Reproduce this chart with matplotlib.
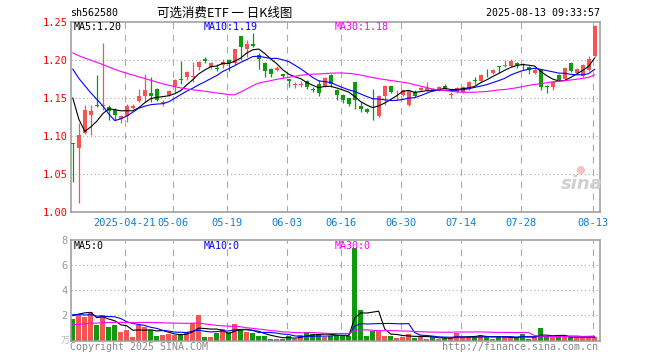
import numpy as np
import pandas as pd
import matplotlib
matplotlib.use('Agg')
import matplotlib.pyplot as plt

# daily bars 2025-04-08 .. 2025-08-13
opens = [1.091, 1.084, 1.104, 1.128, 1.140, 1.139, 1.138, 1.134, 1.122, 1.126,
         1.137, 1.146, 1.153, 1.156, 1.162, 1.143, 1.154, 1.166, 1.175, 1.178,
         1.178, 1.191, 1.201, 1.191, 1.189, 1.193, 1.200, 1.196, 1.231, 1.214,
         1.221, 1.206, 1.196, 1.188, 1.187, 1.181, 1.175, 1.167, 1.167, 1.172,
         1.162, 1.168, 1.165, 1.180, 1.161, 1.154, 1.150, 1.171, 1.139, 1.136,
         1.132, 1.126, 1.153, 1.166, 1.156, 1.154, 1.141, 1.158, 1.160, 1.160,
         1.161, 1.160, 1.166, 1.154, 1.158, 1.158, 1.162, 1.173, 1.173, 1.182,
         1.183, 1.192, 1.192, 1.192, 1.196, 1.194, 1.191, 1.183, 1.187, 1.166,
         1.165, 1.180, 1.175, 1.196, 1.183, 1.179, 1.187, 1.205]
closes = [1.090, 1.101, 1.134, 1.133, 1.139, 1.140, 1.133, 1.128, 1.126, 1.139,
          1.140, 1.153, 1.161, 1.153, 1.147, 1.145, 1.159, 1.174, 1.174, 1.184,
          1.179, 1.198, 1.199, 1.196, 1.188, 1.198, 1.196, 1.214, 1.217, 1.221,
          1.219, 1.201, 1.185, 1.181, 1.190, 1.179, 1.172, 1.168, 1.168, 1.165,
          1.161, 1.156, 1.176, 1.169, 1.154, 1.148, 1.142, 1.147, 1.135, 1.132,
          1.131, 1.153, 1.166, 1.158, 1.157, 1.160, 1.159, 1.153, 1.163, 1.163,
          1.160, 1.165, 1.163, 1.155, 1.163, 1.165, 1.171, 1.172, 1.180, 1.181,
          1.187, 1.191, 1.193, 1.199, 1.194, 1.193, 1.187, 1.187, 1.165, 1.165,
          1.171, 1.174, 1.190, 1.185, 1.188, 1.194, 1.201, 1.245]
highs = [1.091, 1.117, 1.141, 1.141, 1.180, 1.223, 1.141, 1.137, 1.128, 1.142,
         1.142, 1.162, 1.181, 1.178, 1.163, 1.147, 1.161, 1.175, 1.199, 1.185,
         1.197, 1.199, 1.204, 1.198, 1.195, 1.201, 1.201, 1.215, 1.231, 1.226,
         1.235, 1.209, 1.197, 1.189, 1.192, 1.181, 1.175, 1.171, 1.173, 1.174,
         1.164, 1.174, 1.177, 1.181, 1.162, 1.155, 1.150, 1.171, 1.145, 1.137,
         1.162, 1.154, 1.167, 1.166, 1.161, 1.161, 1.160, 1.161, 1.165, 1.171,
         1.163, 1.166, 1.168, 1.158, 1.164, 1.166, 1.172, 1.178, 1.182, 1.188,
         1.188, 1.192, 1.200, 1.201, 1.198, 1.196, 1.192, 1.189, 1.188, 1.167,
         1.172, 1.181, 1.191, 1.197, 1.190, 1.195, 1.205, 1.246]
lows = [1.039, 1.012, 1.102, 1.101, 1.138, 1.134, 1.121, 1.121, 1.117, 1.118,
        1.135, 1.145, 1.145, 1.145, 1.146, 1.140, 1.152, 1.156, 1.169, 1.174,
        1.171, 1.187, 1.196, 1.188, 1.185, 1.189, 1.185, 1.193, 1.200, 1.204,
        1.217, 1.188, 1.178, 1.178, 1.185, 1.176, 1.164, 1.163, 1.164, 1.162,
        1.158, 1.152, 1.164, 1.164, 1.147, 1.143, 1.139, 1.136, 1.132, 1.130,
        1.121, 1.125, 1.141, 1.157, 1.147, 1.152, 1.139, 1.151, 1.159, 1.159,
        1.159, 1.159, 1.161, 1.150, 1.157, 1.157, 1.161, 1.169, 1.172, 1.177,
        1.182, 1.183, 1.191, 1.191, 1.190, 1.187, 1.181, 1.181, 1.161, 1.157,
        1.160, 1.173, 1.174, 1.184, 1.182, 1.178, 1.186, 1.204]
volumes = [1.7, 2.0, 1.9, 2.3, 1.2, 2.05, 1.1, 1.2, 0.7, 0.8,
           0.3, 1.2, 1.1, 0.85, 0.35, 0.45, 0.55, 0.4, 0.53, 0.6,
           1.4, 2.0, 0.25, 0.3, 0.6, 0.9, 0.65, 1.3, 0.8, 0.65,
           0.6, 0.32, 0.37, 0.15, 0.12, 0.15, 0.35, 0.15, 0.45, 0.7,
           0.55, 0.55, 0.3, 0.35, 0.45, 0.35, 0.35, 7.4, 2.45, 0.37,
           0.72, 0.72, 0.37, 0.37, 0.23, 0.3, 0.53, 0.23, 0.37, 0.12,
           0.25, 0.12, 0.2, 0.2, 0.6, 0.25, 0.25, 0.3, 0.45, 0.37,
           0.12, 0.25, 0.25, 0.25, 0.25, 0.55, 0.12, 0.25, 0.96, 0.25,
           0.3, 0.25, 0.3, 0.25, 0.25, 0.25, 0.25, 0.25]

# days before the window, guessed from where the MA lines start
prior_close = [1.215, 1.222, 1.218, 1.225, 1.230, 1.226, 1.219, 1.212, 1.208, 1.214,
               1.221, 1.228, 1.224, 1.217, 1.213, 1.220, 1.227, 1.223, 1.218, 1.221,
               1.222, 1.230, 1.228, 1.225, 1.225, 1.240, 1.215, 1.103, 1.102]
prior_volume = [0.8, 0.9, 0.7, 1.0, 0.85, 0.75, 0.9, 0.8, 0.95, 0.85,
                0.7, 0.9, 1.0, 0.8, 0.85, 0.9, 0.75, 0.85, 0.9, 0.85,
                1.8, 2.3, 2.0, 2.4, 2.1, 1.4, 1.4, 2.1, 3.3]

tick_idx = [9, 17, 26, 36, 45, 55, 65, 75, 87]
tick_labels = ['2025-04-21', '05-06', '05-19', '06-03', '06-16',
               '06-30', '07-14', '07-28', '08-13']
price_ticks = [1.00, 1.05, 1.10, 1.15, 1.20, 1.25]
vol_ticks = [2, 4, 6, 8]

RED = '#f65454'
GREEN = '#0e9a0e'
GREY = '#999999'
MONO = 'DejaVu Sans Mono'
CJK = ['Noto Sans CJK SC', 'DejaVu Sans']

n = len(closes)
x = np.arange(n)
o = np.array(opens)
c = np.array(closes)
up = c >= o
cols = np.where(up, RED, GREEN)


def ma(prior, vals, k):
    s = pd.Series(prior + vals).rolling(k).mean()
    return s.iloc[len(prior):].values


W, H = 660, 360
fig = plt.figure(figsize=(W / 100, H / 100), dpi=100)


def px_axes(left, top, right, bottom):
    return fig.add_axes([left / W, 1 - bottom / H, (right - left) / W, (bottom - top) / H])


def ftext(px, py, s, **kw):
    fig.text(px / W, 1 - py / H, s, **kw)


ax = px_axes(71, 22, 600, 212)
axv = px_axes(71, 240, 600, 340.5)

for a in (ax, axv):
    a.set_xlim(-0.3, 87.9)
    for sp in a.spines.values():
        sp.set_color(GREY)
        sp.set_linewidth(1.1)
    for t in tick_idx:
        a.axvline(t - 0.35, color='#aaaaaa', lw=0.8, ls=(0, (6, 5)), zorder=0)

# price panel
ax.set_ylim(1.0, 1.25)
for p in price_ticks[1:-1]:
    ax.axhline(p, color='#aaaaaa', lw=0.8, ls=(0, (1, 2.5)), zorder=0)
ax.vlines(x, lows, highs, colors=cols, lw=0.9, zorder=2)
body = np.maximum(np.abs(c - o), 0.0012)
ax.bar(x, body, bottom=np.minimum(o, c), width=0.68, color=cols, zorder=3)
ax.plot(x, ma(prior_close, closes, 5), color='black', lw=0.8, zorder=4)
ax.plot(x, ma(prior_close, closes, 10), color='#0000ff', lw=0.8, zorder=4)
ax.plot(x, ma(prior_close, closes, 30), color='#ff00ff', lw=0.8, zorder=4)
ax.set_yticks(price_ticks)
ax.set_yticklabels(['%.2f' % p for p in price_ticks], family=MONO, fontsize=7.5, color='#ff0000')
ax.set_xticks([t - 0.35 for t in tick_idx])
ax.set_xticklabels(tick_labels, family=MONO, fontsize=7.5, color='#0a7fd8')
ax.tick_params(length=0, pad=2.5)
ax.tick_params(axis='x', pad=4)

# volume panel
axv.set_ylim(0, 8)
for v in vol_ticks[:-1]:
    axv.axhline(v, color='#aaaaaa', lw=0.8, ls=(0, (1, 2.5)), zorder=0)
axv.bar(x, volumes, width=0.83, color=cols, zorder=2)
axv.plot(x, ma(prior_volume, volumes, 5), color='black', lw=0.8, zorder=3)
axv.plot(x, ma(prior_volume, volumes, 10), color='#0000ff', lw=0.8, zorder=3)
axv.plot(x, ma(prior_volume, volumes, 30), color='#ff00ff', lw=0.8, zorder=3)
axv.set_yticks(vol_ticks)
axv.set_yticklabels([str(v) for v in vol_ticks], family=MONO, fontsize=7.5, color=GREY)
axv.set_xticks([])
axv.tick_params(length=0, pad=2.5)

# header and labels
ftext(70, 13, 'sh562580', family=MONO, fontsize=7.2, va='center')
ftext(225, 13, '可选消费ETF 一 日K线图', family=CJK, fontsize=9, va='center', ha='center')
ftext(600, 13, '2025-08-13 09:33:57', family=MONO, fontsize=7.2, va='center', ha='right')

ftext(74, 27, 'MA5:1.20', family=MONO, fontsize=7.2, va='center', color='black')
ftext(204, 27, 'MA10:1.19', family=MONO, fontsize=7.2, va='center', color='#0000ff')
ftext(335, 27, 'MA30:1.18', family=MONO, fontsize=7.2, va='center', color='#ff00ff')
ftext(74, 246, 'MA5:0', family=MONO, fontsize=7.2, va='center', color='black')
ftext(204, 246, 'MA10:0', family=MONO, fontsize=7.2, va='center', color='#0000ff')
ftext(335, 246, 'MA30:0', family=MONO, fontsize=7.2, va='center', color='#ff00ff')

ftext(70, 347, 'Copyright 2025 SINA.COM', family=MONO, fontsize=7.2, va='center', color='#888888')
ftext(598, 347, 'http://finance.sina.com.cn', family=MONO, fontsize=7.2, va='center',
      ha='right', color='#888888')
ftext(61, 341, '万', family=CJK, fontsize=6.5, va='center', color='#bbbbbb')
ftext(582, 184, 'sina', fontsize=13, style='italic', weight='bold', va='center',
      ha='center', color='#d0d0d0')
ftext(580, 170, '●', fontsize=8, va='center', ha='center', color='#f2c4c4')

fig.savefig('out.png', dpi=100)
